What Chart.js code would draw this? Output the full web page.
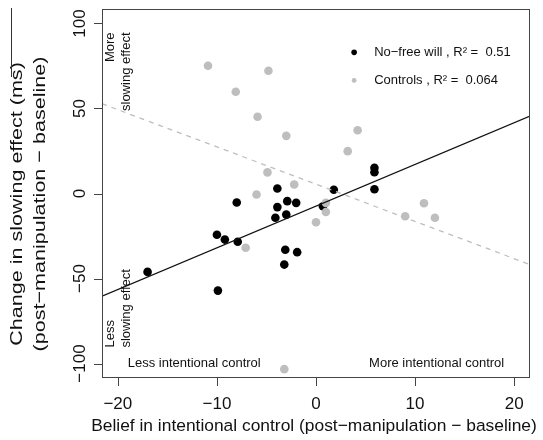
<!DOCTYPE html>
<html>
<head>
<meta charset="utf-8">
<script src="https://cdn.jsdelivr.net/npm/chart.js@4.4.1/dist/chart.umd.min.js"></script>
<style>
  body { margin: 0; background: #fff; }
  canvas { display: block; }
</style>
</head>
<body>
<canvas id="slowingChart" width="543" height="440"></canvas>
<script>
  // tick values + labels
  const xTicks = [-20, -10, 0, 10, 20];
  const xTickLabels = ['\u221220', '\u221210', '0', '10', '20'];
  const yTicks = [-100, -50, 0, 50, 100];
  const yTickLabels = ['\u2212100', '\u221250', '0', '50', '100'];

  // no-free-will group (black)
  const noFreeWillX = [-17.0, -9.9, -10.0, -9.2, -7.9, -8.0, -3.9, -2.9, -2.0, -3.9, -4.1, -3.0, -3.1, -1.9, -3.2, 0.7, 1.8, 5.9, 5.9, 5.9];
  const noFreeWillY = [-46.1, -57.1, -24.3, -27.1, -28.4, -5.3, 2.9, -4.5, -5.5, -8.0, -14.3, -12.4, -33.1, -34.5, -41.8, -7.5, 2.2, 15.1, 12.5, 2.5];

  // controls (grey)
  const controlsX = [-10.9, -4.8, -8.1, -5.9, -3.0, 4.2, 3.2, -4.9, -2.2, -6.0, -7.1, 0.0, 1.0, 1.0, 10.9, 9.0, 12.0, -3.2];
  const controlsY = [75.1, 72.2, 59.8, 45.1, 33.9, 37.2, 24.9, 12.4, 5.3, -0.6, -31.9, -16.9, -5.5, -10.9, -5.7, -13.4, -14.3, -103.3];

  // regression lines, read at the plot edges
  const fitX = [-21.6, 21.6];
  const noFreeWillFit = [-60.4, 45.5];
  const controlsFit = [52.8, -41.8];

  const legendLabels = ['No\u2212free will , R\u00b2 =  0.51', 'Controls , R\u00b2 =  0.064'];

  const FONT = '"Liberation Sans", Arial, Helvetica, sans-serif';
  const GREY = '#bebebe';

  const toPoints = (xs, ys) => xs.map((x, i) => ({ x: x, y: ys[i] }));

  // R style box, axes, annotations
  const rAxes = {
    id: 'rAxes',
    afterDraw(chart) {
      const ctx = chart.ctx;
      const a = chart.chartArea;
      const xs = chart.scales.x;
      const ys = chart.scales.y;
      const tick = 8;

      ctx.save();
      ctx.strokeStyle = '#444';
      ctx.lineWidth = 1;
      ctx.strokeRect(a.left + 0.5, a.top + 0.5, a.right - a.left - 1, a.bottom - a.top - 1);

      // tick marks
      ctx.beginPath();
      xTicks.forEach(v => {
        const px = Math.round(xs.getPixelForValue(v)) + 0.5;
        ctx.moveTo(px, a.bottom);
        ctx.lineTo(px, a.bottom + tick);
      });
      yTicks.forEach(v => {
        const py = Math.round(ys.getPixelForValue(v)) + 0.5;
        ctx.moveTo(a.left, py);
        ctx.lineTo(a.left - tick, py);
      });
      ctx.stroke();

      ctx.fillStyle = '#111';
      ctx.font = '17px ' + FONT;
      ctx.textAlign = 'center';
      ctx.textBaseline = 'middle';
      xTicks.forEach((v, i) => {
        ctx.fillText(xTickLabels[i], xs.getPixelForValue(v), a.bottom + 26);
      });
      ctx.font = '17.4px ' + FONT;
      ctx.fillText('Belief in intentional control (post\u2212manipulation \u2212 baseline)', 314, a.bottom + 48);

      ctx.font = '17px ' + FONT;
      yTicks.forEach((v, i) => {
        ctx.save();
        ctx.translate(a.left - 22, ys.getPixelForValue(v));
        ctx.rotate(-Math.PI / 2);
        ctx.fillText(yTickLabels[i], 0, 0);
        ctx.restore();
      });

      // y title looks stretched along its length in the source
      ctx.font = '17.4px ' + FONT;
      ctx.save();
      ctx.translate(17, 204);
      ctx.rotate(-Math.PI / 2);
      ctx.scale(1.24, 1);
      ctx.fillText('Change in slowing effect (ms)', 0, 0);
      ctx.fillText('(post\u2212manipulation \u2212 baseline)', 0, 23);
      ctx.restore();

      // in-plot notes
      ctx.font = '13px ' + FONT;
      const note = (text, x, y, align) => {
        ctx.save();
        ctx.translate(xs.getPixelForValue(x), ys.getPixelForValue(y));
        ctx.rotate(-Math.PI / 2);
        ctx.textAlign = align;
        ctx.fillText(text, 0, 0);
        ctx.restore();
      };
      note('More', -20.7, 94.7, 'right');
      note('slowing effect', -19.1, 94.7, 'right');
      note('Less', -20.7, -90.6, 'left');
      note('slowing effect', -19.1, -90.6, 'left');

      ctx.textAlign = 'left';
      ctx.fillText('Less intentional control', xs.getPixelForValue(-19.0), ys.getPixelForValue(-100));
      ctx.textAlign = 'right';
      ctx.fillText('More intentional control', xs.getPixelForValue(19.0), ys.getPixelForValue(-100));

      // legend
      const lx = xs.getPixelForValue(3.85);
      ctx.textAlign = 'left';
      [[83, '#000', 2.8], [66.5, GREY, 2.4]].forEach((row, i) => {
        const ly = ys.getPixelForValue(row[0]);
        ctx.fillStyle = row[1];
        ctx.beginPath();
        ctx.arc(lx, ly, row[2], 0, Math.PI * 2);
        ctx.fill();
        ctx.fillStyle = '#111';
        ctx.fillText(legendLabels[i], lx + 20, ly);
      });

      // stray frame line at the far left of the figure
      ctx.strokeStyle = '#333';
      ctx.beginPath();
      ctx.moveTo(11.5, 8);
      ctx.lineTo(11.5, 77);
      ctx.stroke();
      ctx.restore();
    }
  };

  new Chart(document.getElementById('slowingChart'), {
    type: 'scatter',
    data: {
      datasets: [
        {
          type: 'line',
          data: toPoints(fitX, noFreeWillFit),
          borderColor: '#111',
          borderWidth: 1.3,
          pointRadius: 0,
          fill: false
        },
        {
          type: 'line',
          data: toPoints(fitX, controlsFit),
          borderColor: GREY,
          borderWidth: 1.3,
          borderDash: [5, 5],
          pointRadius: 0,
          fill: false
        },
        {
          label: 'Controls',
          data: toPoints(controlsX, controlsY),
          backgroundColor: GREY,
          borderWidth: 0,
          pointRadius: 4.3
        },
        {
          label: 'No-free will',
          data: toPoints(noFreeWillX, noFreeWillY),
          backgroundColor: '#000',
          borderWidth: 0,
          pointRadius: 4.3
        }
      ]
    },
    options: {
      responsive: false,
      animation: false,
      devicePixelRatio: 1,
      layout: { padding: { left: 102, top: 9, right: 13, bottom: 62 } },
      plugins: {
        legend: { display: false },
        tooltip: { enabled: false }
      },
      scales: {
        x: { type: 'linear', min: -21.6, max: 21.6, display: false },
        y: { type: 'linear', min: -108.5, max: 108.5, display: false }
      }
    },
    plugins: [rAxes]
  });
</script>
</body>
</html>
